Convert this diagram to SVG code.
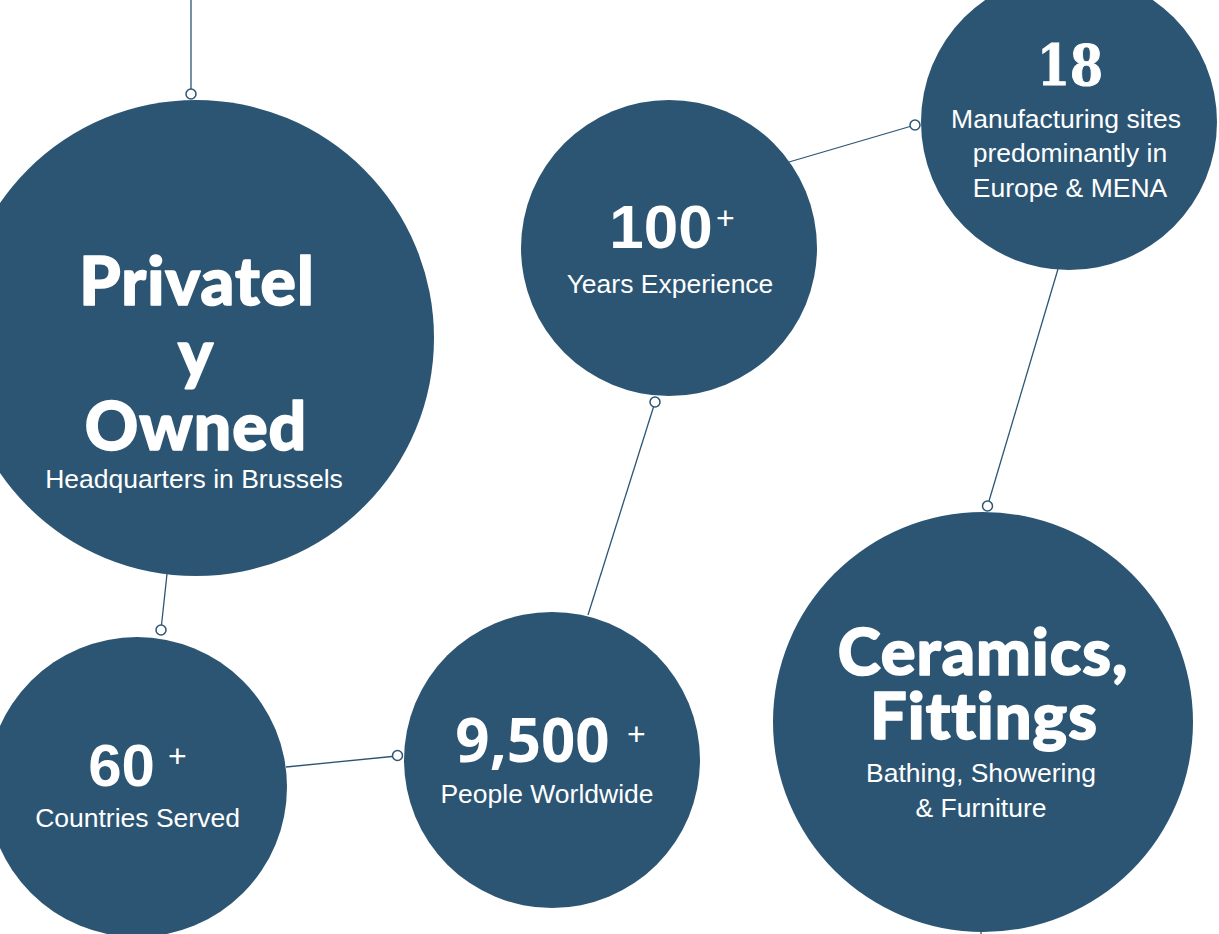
<svg xmlns="http://www.w3.org/2000/svg" width="1219" height="934" viewBox="0 0 1219 934">
<style>
.bub{fill:#2C5573}
.con{stroke:#2C5573;stroke-width:1.3;fill:none}
.dot{fill:#fff;stroke:#2C5573;stroke-width:1.5}
.h{font-family:Lato,"Open Sans",sans-serif;font-weight:900;fill:#fff;stroke:#fff;stroke-width:1.6;stroke-linejoin:round;text-anchor:middle;font-variant-ligatures:none;letter-spacing:1px}
.n{font-family:"Liberation Sans",Arial,sans-serif;font-weight:700;fill:#fff;text-anchor:middle}
.s{font-family:"Liberation Sans",Arial,sans-serif;fill:#fff;text-anchor:middle;font-size:26.5px}
.p{font-family:"Liberation Sans",Arial,sans-serif;fill:#fff;font-size:32px}
</style>
<rect width="1219" height="934" fill="#fff"/>
<g id="connectors">
<line class="con" x1="191" y1="0" x2="191" y2="89"/>
<circle class="dot" cx="191" cy="94" r="5"/>
<line class="con" x1="167" y1="574" x2="161.5" y2="625"/>
<circle class="dot" cx="161" cy="630" r="5"/>
<line class="con" x1="286" y1="767" x2="392" y2="756.5"/>
<circle class="dot" cx="397.5" cy="755.5" r="5"/>
<line class="con" x1="588" y1="615" x2="653.5" y2="407"/>
<circle class="dot" cx="655" cy="402" r="5"/>
<line class="con" x1="789" y1="162" x2="910" y2="126.5"/>
<circle class="dot" cx="915" cy="125" r="5"/>
<line class="con" x1="1058" y1="269" x2="989" y2="501"/>
<circle class="dot" cx="987.5" cy="506" r="5"/>
<line class="con" x1="981" y1="928" x2="981" y2="934"/>
</g>
<g id="node-private">
<circle class="bub" cx="196" cy="338" r="238"/>
<text class="h" x="197" y="305" font-size="66">Privatel</text>
<text class="h" x="196" y="377" font-size="66">y</text>
<text class="h" x="196" y="450" font-size="66">Owned</text>
<text class="s" x="194" y="488">Headquarters in Brussels</text>
</g>
<g id="node-years">
<circle class="bub" cx="669" cy="248" r="148"/>
<text class="n" x="661" y="248" font-size="62">100</text>
<text class="p" x="716" y="229">+</text>
<text class="s" x="670" y="293">Years Experience</text>
</g>
<g id="node-sites">
<circle class="bub" cx="1069" cy="122" r="148"/>
<text x="1070" y="85" font-family="'DejaVu Serif',serif" font-weight="700" font-size="56" fill="#fff" stroke="#fff" stroke-width="1" text-anchor="middle" textLength="66" lengthAdjust="spacingAndGlyphs">18</text>
<text class="s" x="1066" y="128">Manufacturing sites</text>
<text class="s" x="1070" y="162">predominantly in</text>
<text class="s" x="1070" y="197">Europe &amp; MENA</text>
</g>
<g id="node-products">
<circle class="bub" cx="983" cy="722" r="210"/>
<text class="h" x="983" y="675" font-size="65">Ceramics,</text>
<text class="h" x="984" y="739" font-size="65">Fittings</text>
<text class="s" x="981" y="782">Bathing, Showering</text>
<text class="s" x="981" y="817">&amp; Furniture</text>
</g>
<g id="node-countries">
<circle class="bub" cx="137" cy="787" r="150"/>
<text class="n" x="121.5" y="786" font-size="60">60</text>
<text class="p" x="168" y="767">+</text>
<text class="s" x="137.5" y="827">Countries Served</text>
</g>
<g id="node-people">
<circle class="bub" cx="552" cy="760" r="148"/>
<text x="532.5" y="762" font-family="'Open Sans',sans-serif" font-weight="700" font-size="60" fill="#fff" text-anchor="middle">9,500</text>
<text class="p" x="627" y="745">+</text>
<text class="s" x="547" y="803">People Worldwide</text>
</g>
</svg>
